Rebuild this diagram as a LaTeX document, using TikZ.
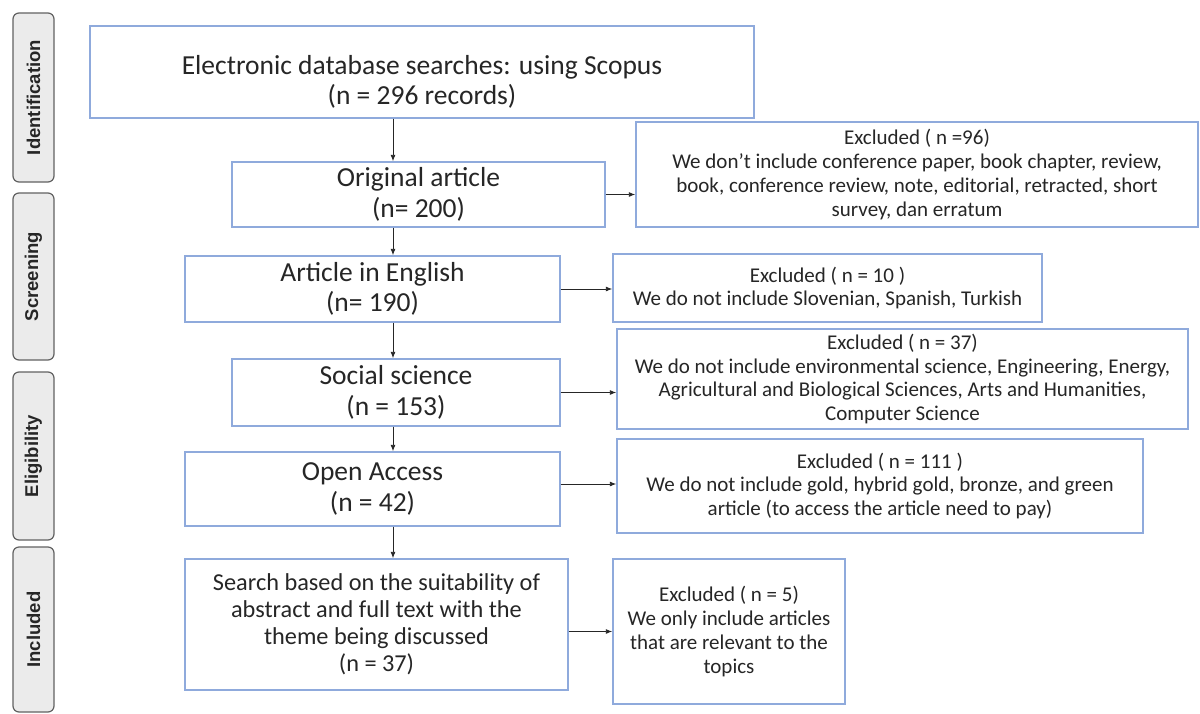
\documentclass[tikz,border=0pt]{standalone}
\usepackage{fontspec}
\setmainfont{Carlito}
\newfontfamily\stagefont{Liberation Sans}
\usetikzlibrary{arrows.meta}
\definecolor{boxblue}{RGB}{143,170,220}
\definecolor{txt}{RGB}{38,38,38}
\begin{document}
\begin{tikzpicture}[x=1pt,y=-1pt,
  mainbox/.style={draw=boxblue, line width=1.4pt, fill=white, inner sep=0pt, align=center, text=txt, font=\fontsize{27.5}{30.5}\selectfont},
  exbox/.style={draw=boxblue, line width=1.4pt, fill=white, inner sep=0pt, align=center, text=txt, font=\fontsize{21}{23.7}\selectfont},
  plain/.style={inner sep=0pt, align=center, text=txt, font=\fontsize{27.5}{30.5}\selectfont},
  stage/.style={draw=black!62, fill=black!8, rounded corners=6pt, line width=1.2pt, inner sep=0pt, minimum height=41pt, rotate=90, text=black!85, font=\stagefont\bfseries\fontsize{18.5}{20}\selectfont},
  arr/.style={-{Latex[length=6.5pt,width=5pt]}, line width=0.9pt, txt}]
\useasboundingbox (0,0) rectangle (1200,713);
\fill[white] (0,0) rectangle (1200,713);
% stage labels
\node[stage, minimum width=169pt] (s1) at (33.5,97.5) {Identification};
\node[stage, minimum width=167pt] (s2) at (33.5,276.5) {Screening};
\node[stage, minimum width=168pt] (s3) at (33.5,456) {Eligibility};
\node[stage, minimum width=165pt] (s4) at (33.5,629.5) {Included};
% main column
\node[mainbox, minimum width=664pt, minimum height=92pt] (E) at (422,72) {};
\node[plain] (Et) at (422,82) {Electronic database searches: using Scopus\\(n = 296 records)};
\node[mainbox, minimum width=373pt, minimum height=65pt] (O) at (418.5,194.5) {Original article\\(n= 200)};
\node[mainbox, minimum width=375pt, minimum height=66pt] (A) at (372.5,289) {Article in English\\(n= 190)};
\node[mainbox, minimum width=328pt, minimum height=67pt] (S) at (396,392.5) {Social science\\(n = 153)};
\node[mainbox, minimum width=375pt, minimum height=74pt] (OA) at (372.5,489) {Open Access\\(n = 42)};
\node[mainbox, minimum width=383pt, minimum height=131pt, font=\fontsize{24.3}{27}\selectfont] (SR) at (376.5,624.5) {Search based on the suitability of\\abstract and full text with the\\theme being discussed\\(n = 37)};
% excluded column
\node[exbox, minimum width=562pt, minimum height=105pt] (X1) at (917,174.5) {Excluded ( n =96)\\We don’t include conference paper, book chapter, review,\\book, conference review, note, editorial, retracted, short\\survey, dan erratum};
\node[exbox, minimum width=429pt, minimum height=68pt] (X2) at (827.5,288) {Excluded ( n = 10 )\\We do not include Slovenian, Spanish, Turkish};
\node[exbox, minimum width=571pt, minimum height=100pt] (X3) at (902.5,379) {Excluded ( n = 37)\\We do not include environmental science, Engineering, Energy,\\Agricultural and Biological Sciences, Arts and Humanities,\\Computer Science};
\node[exbox, minimum width=526pt, minimum height=94pt] (X4) at (880,486) {Excluded ( n = 111 )\\We do not include gold, hybrid gold, bronze, and green\\article (to access the article need to pay)};
\node[exbox, minimum width=232pt, minimum height=145pt] (X5) at (729,631.5) {Excluded ( n = 5)\\We only include articles\\that are relevant to the\\topics};
% connectors
\coordinate (vx) at (393,0);
\draw[arr] (E.south -| vx) -- (O.north -| vx);
\draw[arr] (O.south -| vx) -- (A.north -| vx);
\draw[arr] (A.south -| vx) -- (S.north -| vx);
\draw[arr] (S.south -| vx) -- (OA.north -| vx);
\draw[arr] (OA.south -| vx) -- (SR.north -| vx);
\draw[arr] (O.east) -- (O.east -| X1.west);
\draw[arr] (A.east) -- (A.east -| X2.west);
\draw[arr] (S.east) -- (S.east -| X3.west);
\draw[arr] ([yshift=5pt]OA.east) -- ([yshift=5pt]OA.east -| X4.west);
\draw[arr] ([yshift=-7pt]SR.east) -- ([yshift=-7pt]SR.east -| X5.west);
\end{tikzpicture}
\end{document}
